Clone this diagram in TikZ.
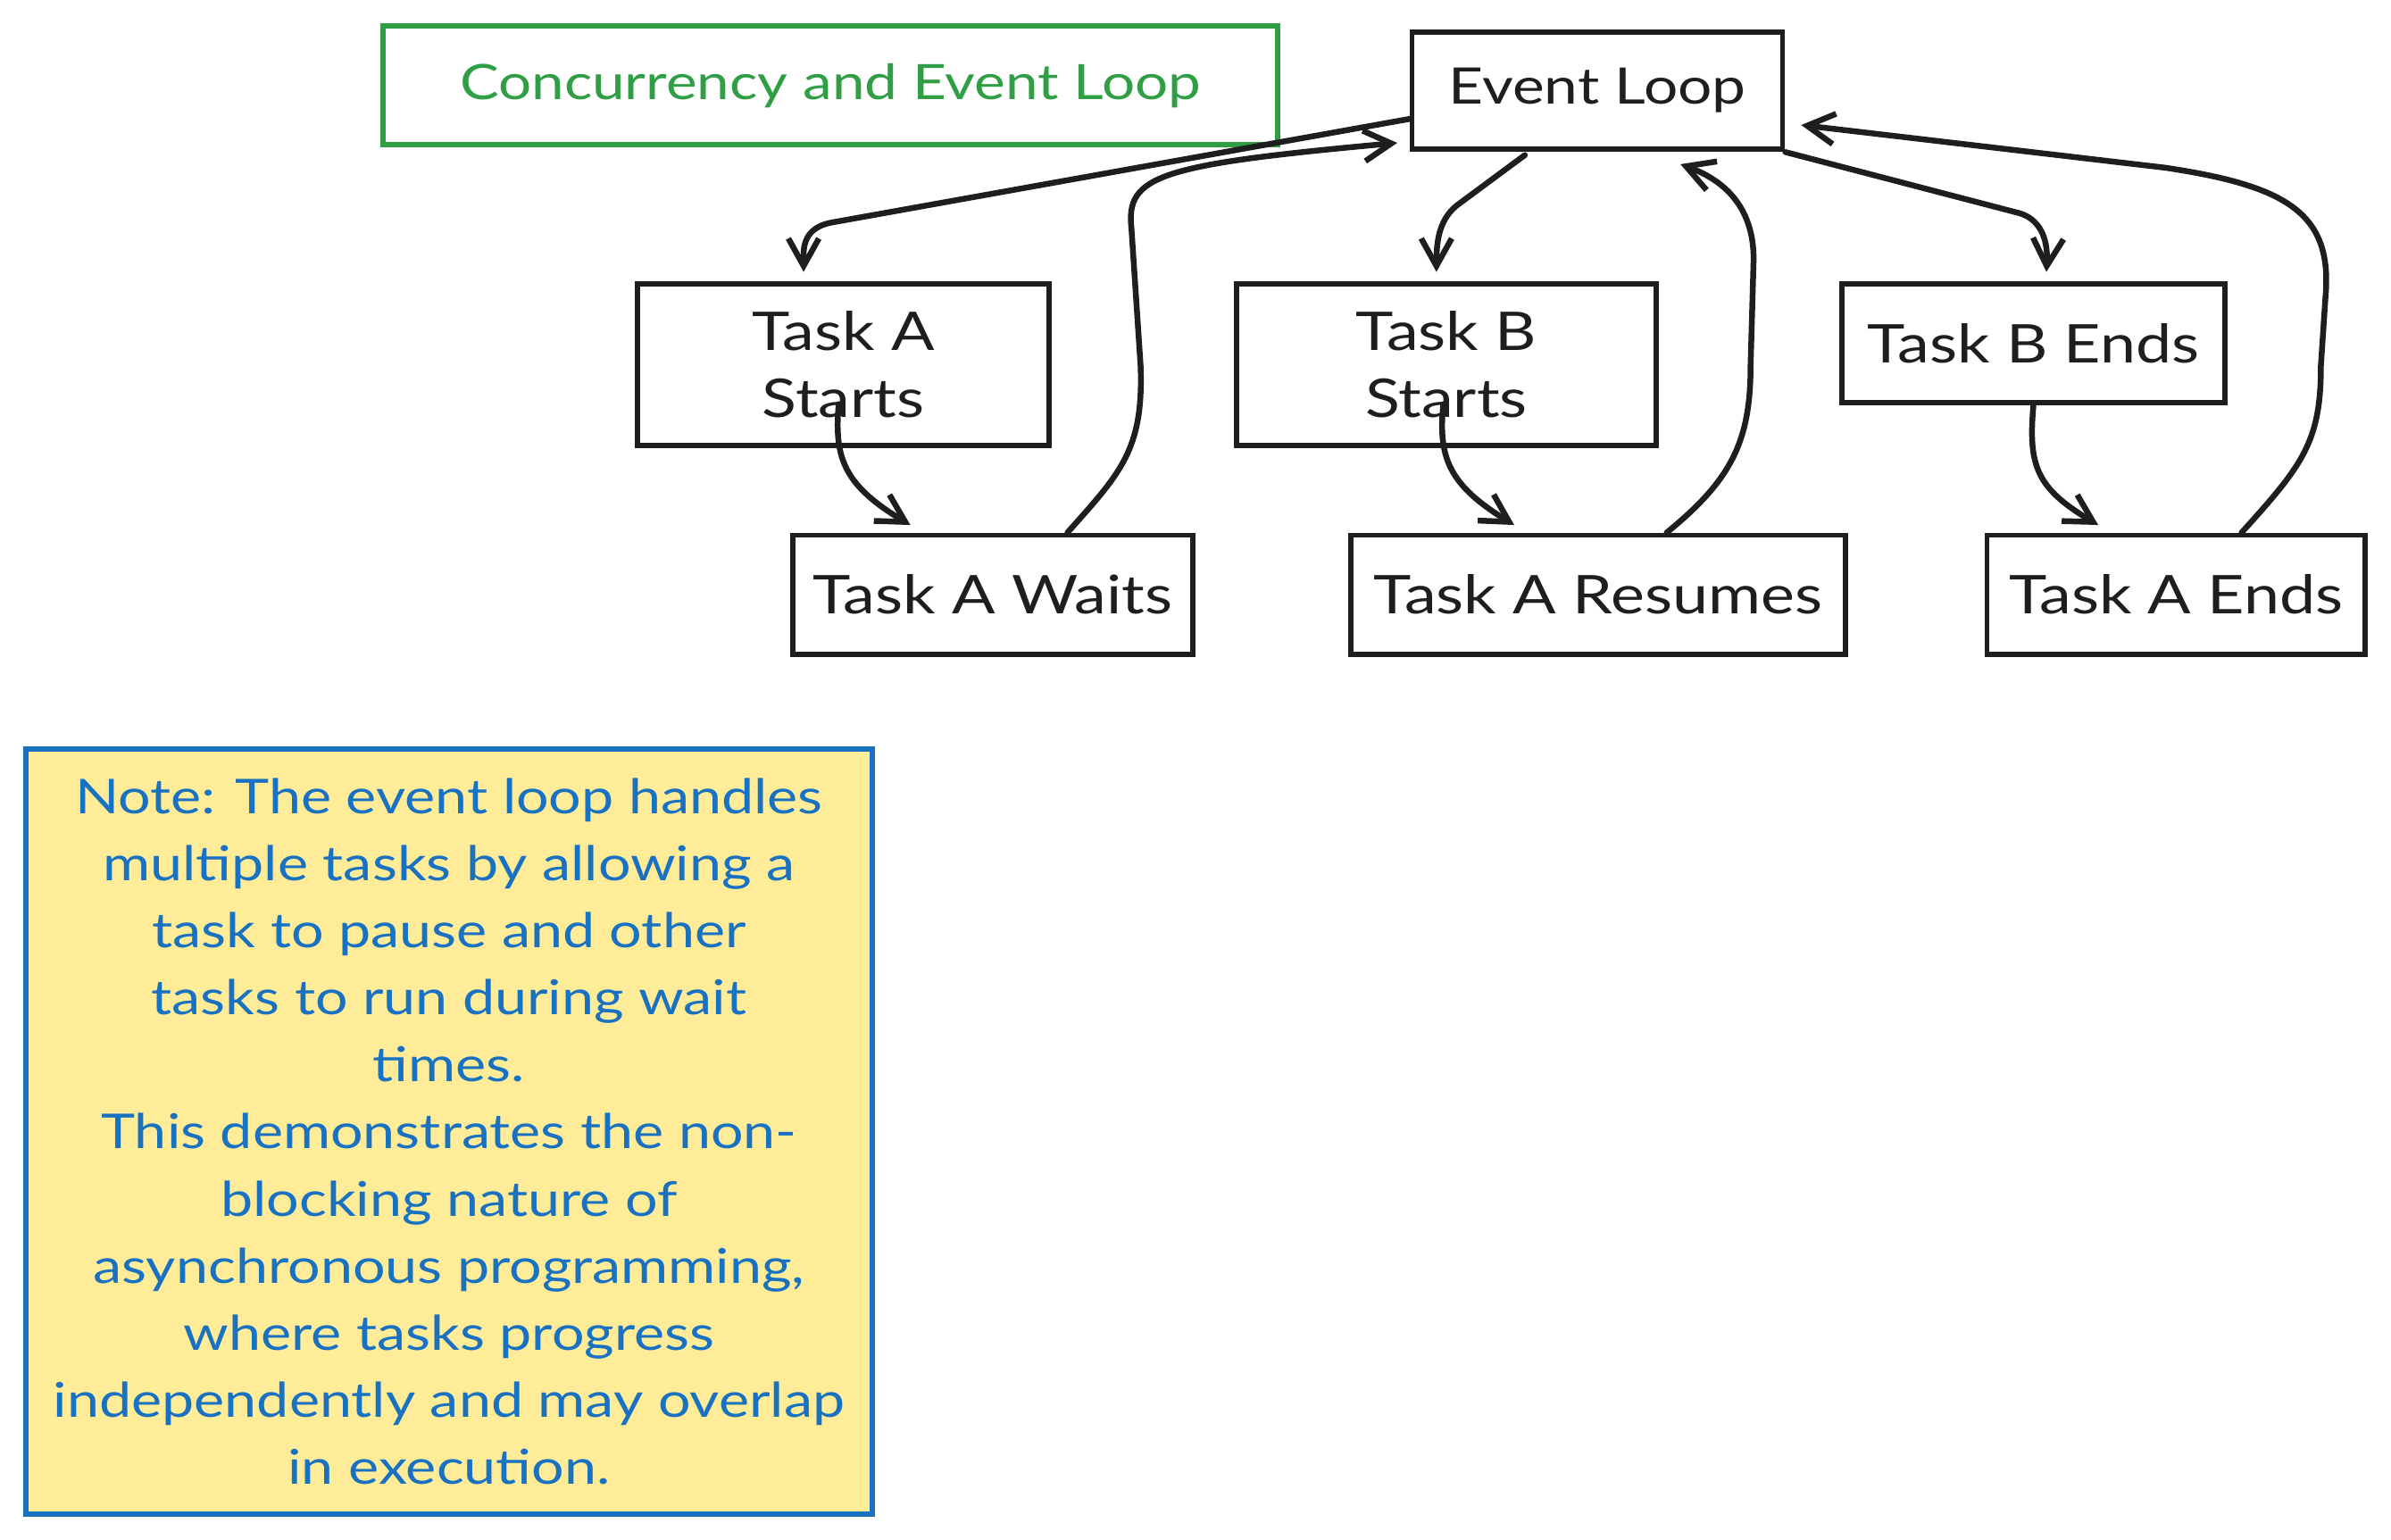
\documentclass[tikz,border=0pt]{standalone}
\usepackage{fontspec}
\setmainfont{Lato}[FakeStretch=1.2]
\usetikzlibrary{arrows.meta,calc}
\definecolor{ink}{HTML}{1E1E1E}
\definecolor{grn}{HTML}{2F9E44}
\definecolor{blu}{HTML}{1971C2}
\definecolor{yel}{HTML}{FFEC99}
\begin{document}
\begin{tikzpicture}[x=1pt,y=-1pt,
  box/.style={draw=ink, line width=3.4pt, rectangle, text=ink, font=\fontsize{35}{44}\selectfont, align=center, inner sep=0pt},
  conn/.style={draw=ink, line width=3.8pt, line cap=round, line join=round, -{Straight Barb[length=18pt,width=20pt,line width=3.8pt]}},
]
\useasboundingbox (0,0) rectangle (1568,1010);
\node[box, draw=grn, text=grn, minimum width=587pt, minimum height=78pt, font=\fontsize{32}{44}\selectfont] (title) at (544.5,56) {Concurrency and Event Loop};
\node[box, minimum width=243pt, minimum height=77pt, font=\fontsize{33}{44}\selectfont] (el) at (1047.5,59.5) {Event Loop};
\node[box, minimum width=270pt, minimum height=106pt] (tas) at (553,239) {Task A\\Starts};
\node[box, minimum width=275pt, minimum height=106pt] (tbs) at (948.5,239) {Task B\\Starts};
\node[box, minimum width=251pt, minimum height=78pt] (tbe) at (1333.5,225) {Task B Ends};
\node[box, minimum width=262pt, minimum height=78pt] (taw) at (651,390) {Task A Waits};
\node[box, minimum width=324pt, minimum height=78pt] (tar) at (1048,390) {Task A Resumes};
\node[box, minimum width=248pt, minimum height=78pt] (tae) at (1427,390) {Task A Ends};
\node[box, draw=blu, fill=yel, text=blu, minimum width=555pt, minimum height=502pt, font=\fontsize{31.5}{44}\selectfont] (note) at (294.5,742) {Note: The event loop handles\\multiple tasks by allowing a\\task to pause and other\\tasks to run during wait\\times.\\ This demonstrates the non-\\blocking nature of\\asynchronous programming,\\where tasks progress\\independently and may overlap\\in execution.};
% arrows
\draw[conn] ($(el.west)+(0,18.5)$) -- (545,146) .. controls (525,150) and (527,165) .. ($(tas.north)+(-26,-6)$);
\draw[conn] ($(tas.center)+(-3,26)$) .. controls (547,300) and (553,318) .. ($(taw.north)+(-54,-5)$);
\draw[conn] ($(taw.north)+(49,0)$) .. controls (735,310) and (750,295) .. (748,240) -- (742,150) .. controls (738,115) and (760,108) .. ($(el.south west)+(-8,-6)$);
\draw[conn] ($(el.south)+(-47.5,2)$) -- (955,135) .. controls (943,145) and (942,160) .. ($(tbs.north)+(-6.5,-6)$);
\draw[conn] ($(tbs.center)+(-2,26)$) .. controls (943,300) and (950,318) .. ($(tar.north)+(-55,-5)$);
\draw[conn] ($(tar.north)+(45,0)$) .. controls (1135,315) and (1148,290) .. (1148,240) -- (1150,170) .. controls (1150,135) and (1130,118) .. ($(el.south)+(54.5,8)$);
\draw[conn] (el.south east) -- (1325,140) .. controls (1340,145) and (1343,160) .. ($(tbe.north)+(8.5,-6)$);
\draw[conn] (tbe.south) .. controls (1330,305) and (1335,320) .. ($(tae.north)+(-51,-5)$);
\draw[conn] ($(tae.north)+(43,0)$) .. controls (1510,305) and (1522,290) .. (1522,240) -- (1525,195) .. controls (1530,140) and (1500,122) .. (1420,110) -- ($(el.east)+(10.5,22.5)$);
\end{tikzpicture}
\end{document}
